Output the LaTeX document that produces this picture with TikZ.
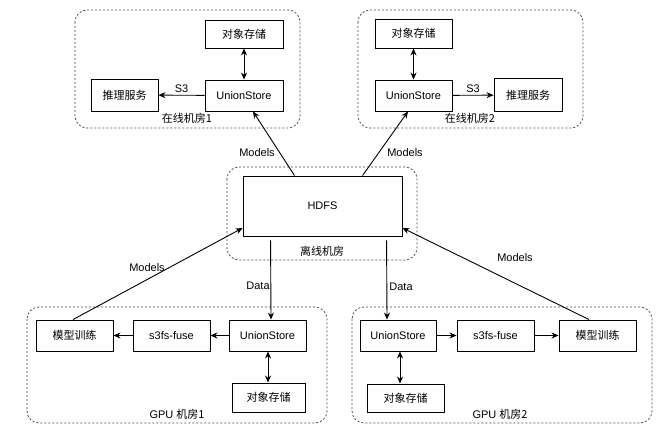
\documentclass[tikz,border=0pt]{standalone}
\usepackage{fontspec}
\setmainfont{Liberation Sans}
\newfontfamily\cjk{Noto Sans CJK SC}
\usetikzlibrary{arrows.meta}
\begin{document}
\begin{tikzpicture}[x=1pt,y=-1pt,
  font=\fontsize{11}{13}\selectfont,
  box/.style={draw, line width=0.9pt, inner sep=0pt, minimum width=77pt, minimum height=31pt},
  grp/.style={draw=black!70, dashed, dash pattern=on 2pt off 2pt, line width=0.8pt, rounded corners=12pt},
  arr/.style={line width=0.9pt, -{Stealth[length=7pt,width=6pt]}},
  darr/.style={line width=0.9pt, {Stealth[length=7pt,width=6pt]}-{Stealth[length=7pt,width=6pt]}},
  lbl/.style={inner sep=1pt}]
\useasboundingbox[fill=white] (0,0) rectangle (660,433);

% groups
\draw[grp] (75,10) rectangle (300,128);
\draw[grp] (358,10) rectangle (583,128);
\draw[grp] (227,167) rectangle (417,260);
\draw[grp] (27,307) rectangle (327,423);
\draw[grp] (352,307) rectangle (652,423);

% online room 1
\node[box, minimum width=78pt, minimum height=28pt] (obj1) at (244,34) {\cjk 对象存储};
\node[box, minimum width=78pt] (us1) at (244,95.5) {UnionStore};
\node[box, minimum width=67pt, minimum height=32pt] (inf1) at (124.5,95) {\cjk 推理服务};
\node[lbl] (g1lbl) at (187,118) {\cjk 在线机房1};

% online room 2
\node[box, minimum height=29pt] (obj2) at (413.5,33.5) {\cjk 对象存储};
\node[box] (us2) at (413.5,95.5) {UnionStore};
\node[box, minimum width=68pt, minimum height=33pt] (inf2) at (528,95) {\cjk 推理服务};
\node[lbl] (g2lbl) at (470,118) {\cjk 在线机房2};

% offline
\node[box, minimum width=159pt, minimum height=60pt] (hdfs) at (322.5,206) {HDFS};
\node[lbl] (offlbl) at (322,251) {\cjk 离线机房};

% GPU 1
\node[box] (train1) at (74.5,335.5) {\cjk 模型训练};
\node[box] (fuse1) at (171.5,335.5) {s3fs-fuse};
\node[box] (usg1) at (267.5,335.5) {UnionStore};
\node[box, minimum width=73pt, minimum height=29pt] (objg1) at (268.5,397.5) {\cjk 对象存储};
\node[lbl] (gpu1lbl) at (177,414) {GPU {\cjk 机房1}};

% GPU 2
\node[box, minimum width=76pt] (usg2) at (398,335.5) {UnionStore};
\node[box] (fuse2) at (495.5,335.5) {s3fs-fuse};
\node[box] (train2) at (597.5,335.5) {\cjk 模型训练};
\node[box, minimum height=28pt] (objg2) at (405.5,398) {\cjk 对象存储};
\node[lbl] (gpu2lbl) at (500,414) {GPU {\cjk 机房2}};

% connectors top
\draw[darr] (obj1) -- (us1);
\draw[arr] (us1) -- node[lbl, above, yshift=1pt] (s3a) {S3} (inf1);
\draw[darr] (obj2) -- (us2);
\draw[arr] (us2) -- node[lbl, above, yshift=1pt] (s3b) {S3} (inf2);

\draw[arr] ([xshift=52pt]hdfs.north west) -- ([xshift=9pt]us1.south);
\draw[arr] ([xshift=120pt]hdfs.north west) -- ([xshift=-5.5pt]us2.south);
\node[lbl] (m1) at (257,153) {Models};
\node[lbl] (m2) at (405,153) {Models};

% data
\draw[arr] ([xshift=28pt,yshift=-4pt]hdfs.south west) -- ([xshift=3.5pt]usg1.north);
\draw[arr] ([xshift=144pt,yshift=-4pt]hdfs.south west) -- ([xshift=-11pt]usg2.north);
\node[lbl] (d1) at (258,286) {Data};
\node[lbl] (d2) at (401,287) {Data};

% models up
\draw[arr] ([xshift=-1.5pt]train1.north) -- ([yshift=-22pt]hdfs.west);
\draw[arr] ([xshift=-8.5pt]train2.north) -- ([yshift=-22pt]hdfs.east);
\node[lbl] (m3) at (147,268) {Models};
\node[lbl] (m4) at (515,258) {Models};

% GPU internal
\draw[arr] (usg1) -- (fuse1);
\draw[arr] (fuse1) -- (train1);
\draw[darr] ([xshift=0.5pt]usg1.south) -- ([xshift=-0.5pt]objg1.north);
\draw[arr] (usg2) -- (fuse2);
\draw[arr] (fuse2) -- (train2);
\draw[darr] ([xshift=2pt]usg2.south) -- ([xshift=-5.5pt]objg2.north);
\end{tikzpicture}
\end{document}
